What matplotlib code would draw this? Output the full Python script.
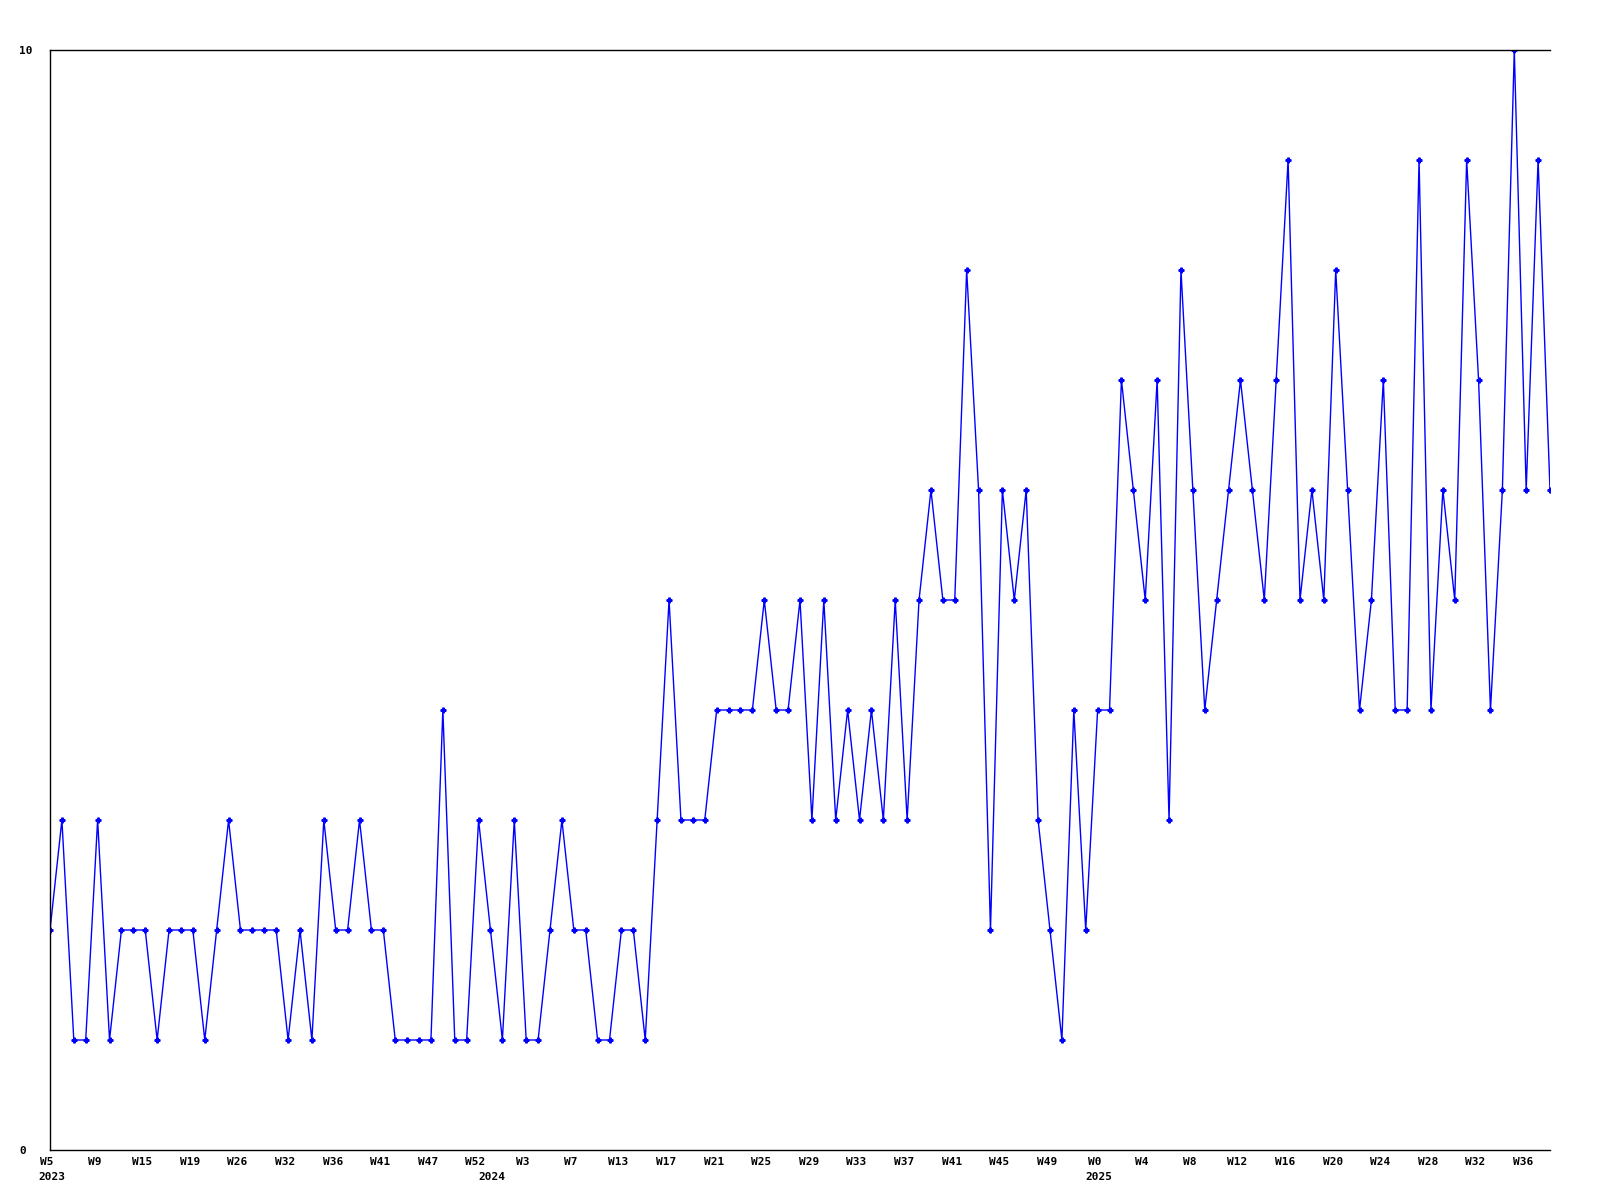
import matplotlib
matplotlib.use("Agg")
import matplotlib.pyplot as plt
import matplotlib.transforms as mtransforms

# weekly counts, one per point
values = [2, 3, 1, 1, 3, 1, 2, 2, 2, 1, 2, 2, 2, 1, 2, 3, 2, 2, 2, 2,
          1, 2, 1, 3, 2, 2, 3, 2, 2, 1, 1, 1, 1, 4, 1, 1, 3, 2, 1, 3,
          1, 1, 2, 3, 2, 2, 1, 1, 2, 2, 1, 3, 5, 3, 3, 3, 4, 4, 4, 4,
          5, 4, 4, 5, 3, 5, 3, 4, 3, 4, 3, 5, 3, 5, 6, 5, 5, 8, 6, 2,
          6, 5, 6, 3, 2, 1, 4, 2, 4, 4, 7, 6, 5, 7, 3, 8, 6, 4, 5, 6,
          7, 6, 5, 7, 9, 5, 6, 5, 8, 6, 4, 5, 7, 4, 4, 9, 4, 6, 5, 9,
          7, 4, 6, 10, 6, 9, 6]

# label every 4th point
week_labels = ["W5", "W9", "W15", "W19", "W26", "W32", "W36", "W41", "W47", "W52",
               "W3", "W7", "W13", "W17", "W21", "W25", "W29", "W33", "W37", "W41",
               "W45", "W49", "W0", "W4", "W8", "W12", "W16", "W20", "W24", "W28",
               "W32", "W36"]
years = ["2023", "2024", "2025"]
year_idx = [0, 37, 88]

x = list(range(len(values)))

fig = plt.figure(figsize=(16, 12), dpi=100)
ax = fig.add_axes([50/1600, 50/1200, 1500/1600, 1100/1200])
ax.plot(x, values, color="#0000ff", lw=1.0, marker="P", ms=3.5, mec="#0000ff", mfc="#0000ff")
ax.set_xlim(0, len(values) - 1)
ax.set_ylim(0, 10)

for s in ["left", "bottom", "top"]:
    ax.spines[s].set_linewidth(1.0)
    ax.spines[s].set_color("black")
ax.spines["right"].set_visible(False)

font = dict(family="DejaVu Sans Mono", weight="bold", size=8)

ax.set_xticks(x[::4])
ax.set_xticklabels(week_labels, **font)
ax.set_yticks([0, 10])
ax.set_yticklabels(["0", "10"], **font)
ax.tick_params(axis="x", length=0, pad=5)
ax.tick_params(axis="y", length=0, pad=22)
for lbl in ax.get_yticklabels():
    lbl.set_ha("left")
shift = mtransforms.ScaledTranslation(-3/100, 0, fig.dpi_scale_trans)
for lbl in ax.get_xticklabels():
    lbl.set_transform(lbl.get_transform() + shift)

# year labels under the week labels
trans = mtransforms.blended_transform_factory(ax.transData, ax.transAxes)
off = mtransforms.offset_copy(trans, fig=fig, x=-12, y=-22, units="dots")
for yr, i in zip(years, year_idx):
    ax.text(x[i], 0, yr, transform=off, ha="left", va="top", **font)

fig.savefig("out.png", dpi=100)
